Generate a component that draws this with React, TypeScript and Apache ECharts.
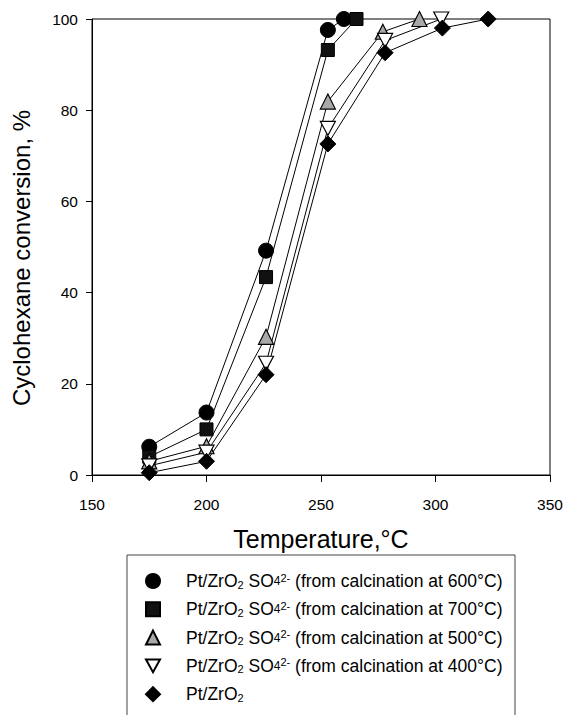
import React, { useEffect, useRef } from "react";
import * as echarts from "echarts";

const FONT = "Arial, 'Liberation Sans', Helvetica, sans-serif";

// Temperatures (°C) and conversions (%) per catalyst
const temps600 = [175, 200, 226, 253, 260];
const conv600 = [6.2, 13.7, 49.2, 97.6, 100];

const temps700 = [175, 200, 226, 253, 265.5];
const conv700 = [4, 10, 43.4, 93.2, 100];

const temps500 = [175, 200, 226, 253, 277, 293];
const conv500 = [3, 6.3, 30.3, 81.9, 97.2, 100];

const temps400 = [175, 200, 226, 253, 278, 302.5];
const conv400 = [2, 5, 24.5, 76, 95.3, 100];

const tempsPlain = [175, 200, 226, 253, 278, 303, 323];
const convPlain = [0.5, 3, 22, 72.6, 92.6, 98, 100];

const xTicks = { min: 150, max: 350, interval: 50 };
const yTicks = { min: 0, max: 100, interval: 20 };

const seriesNames = [
  "Pt/ZrO2 SO4 2- (from calcination at 600°C)",
  "Pt/ZrO2 SO4 2- (from calcination at 700°C)",
  "Pt/ZrO2 SO4 2- (from calcination at 500°C)",
  "Pt/ZrO2 SO4 2- (from calcination at 400°C)",
  "Pt/ZrO2",
];
const calcTemps = ["600", "700", "500", "400"];

const pairs = (xs: number[], ys: number[]) => xs.map((x, i) => [x, ys[i]]);

const INV_TRI = "path://M0,0L10,0L5,9Z";

export default function App() {
  const ref = useRef<HTMLDivElement>(null);
  useEffect(() => {
    if (!ref.current) return;
    const chart = echarts.init(ref.current, null, { renderer: "svg" });

    const legendRich: Record<string, string> = {};
    calcTemps.forEach((t, i) => {
      legendRich[seriesNames[i]] =
        `{g|}Pt/ZrO{sub|2} SO{s4|4}{sup|2-} (from calcination at ${t}°C)`;
    });
    legendRich[seriesNames[4]] = `{g|}Pt/ZrO{sub|2}`;

    const base = {
      type: "line" as const,
      lineStyle: { color: "#000", width: 1 },
      z: 2,
    };

    chart.setOption({
      animation: false,
      backgroundColor: "#fff",
      grid: {
        left: 92,
        right: 16,
        top: 19,
        bottom: 240,
        show: true,
        borderColor: "#000",
        borderWidth: 1,
        backgroundColor: "transparent",
      },
      xAxis: {
        type: "value",
        min: xTicks.min,
        max: xTicks.max,
        interval: xTicks.interval,
        axisLine: { show: true, lineStyle: { color: "#000", width: 1 } },
        axisTick: { show: true, length: 7, lineStyle: { color: "#000" } },
        axisLabel: { color: "#000", fontSize: 15.5, fontFamily: FONT, margin: 21 },
        splitLine: { show: false },
        name: "Temperature,°C",
        nameLocation: "middle",
        nameGap: 51,
        nameTextStyle: { color: "#000", fontSize: 25, fontFamily: FONT, verticalAlign: "top" },
      },
      yAxis: {
        type: "value",
        min: yTicks.min,
        max: yTicks.max,
        interval: yTicks.interval,
        axisLine: { show: true, lineStyle: { color: "#000", width: 1 } },
        axisTick: { show: true, length: 6, lineStyle: { color: "#000" } },
        axisLabel: { color: "#000", fontSize: 15.5, fontFamily: FONT, margin: 14 },
        splitLine: { show: false },
      },
      legend: {
        orient: "vertical",
        left: 145,
        top: 572,
        itemWidth: 14,
        itemHeight: 14,
        itemGap: 10.3,
        padding: 0,
        selectedMode: false,
        data: [
          { name: seriesNames[0], icon: "circle" },
          { name: seriesNames[1], icon: "rect" },
          { name: seriesNames[2], icon: "triangle" },
          { name: seriesNames[3], icon: INV_TRI },
          { name: seriesNames[4], icon: "diamond" },
        ],
        formatter: (name: string) => legendRich[name] || name,
        textStyle: {
          color: "#000",
          fontSize: 17.5,
          fontFamily: FONT,
          lineHeight: 18,
          rich: {
            g: { width: 21, fontSize: 17.5, lineHeight: 18 },
            sub: { fontSize: 11, fontFamily: FONT, color: "#000", lineHeight: 8, verticalAlign: "bottom" },
            s4: { fontSize: 12, fontFamily: FONT, color: "#000", lineHeight: 18 },
            sup: { fontSize: 11, fontFamily: FONT, color: "#000", lineHeight: 8, verticalAlign: "top" },
          },
        },
      },
      graphic: [
        {
          type: "text",
          x: 21,
          y: 258,
          rotation: Math.PI / 2,
          style: {
            text: "Cyclohexane conversion, %",
            fontSize: 24,
            fontFamily: FONT,
            fill: "#000",
            textAlign: "center",
            textVerticalAlign: "middle",
          },
        },
        {
          type: "rect",
          shape: { x: 127, y: 555, width: 388, height: 200 },
          style: { fill: "none", stroke: "#444", lineWidth: 1 },
          silent: true,
        },
      ],
      series: [
        {
          ...base,
          name: seriesNames[0],
          data: pairs(temps600, conv600),
          symbol: "circle",
          symbolSize: 15,
          itemStyle: { color: "#000", borderColor: "#000", borderWidth: 1 },
        },
        {
          ...base,
          name: seriesNames[1],
          data: pairs(temps700, conv700),
          symbol: "rect",
          symbolSize: 13,
          itemStyle: { color: "#111", borderColor: "#000", borderWidth: 1 },
        },
        {
          ...base,
          name: seriesNames[2],
          data: pairs(temps500, conv500),
          symbol: "triangle",
          symbolSize: 15,
          itemStyle: { color: "#a8a8a8", borderColor: "#000", borderWidth: 1.2 },
        },
        {
          ...base,
          name: seriesNames[3],
          data: pairs(temps400, conv400),
          symbol: INV_TRI,
          symbolSize: [15, 14],
          itemStyle: { color: "#fff", borderColor: "#000", borderWidth: 1.2 },
        },
        {
          ...base,
          name: seriesNames[4],
          data: pairs(tempsPlain, convPlain),
          symbol: "diamond",
          symbolSize: 16,
          itemStyle: { color: "#000", borderColor: "#000", borderWidth: 1 },
        },
      ],
    });
    return () => chart.dispose();
  }, []);

  return (
    <div
      ref={ref}
      style={{ position: "absolute", left: 0, top: 0, width: 566, height: 715, background: "#fff" }}
    />
  );
}
